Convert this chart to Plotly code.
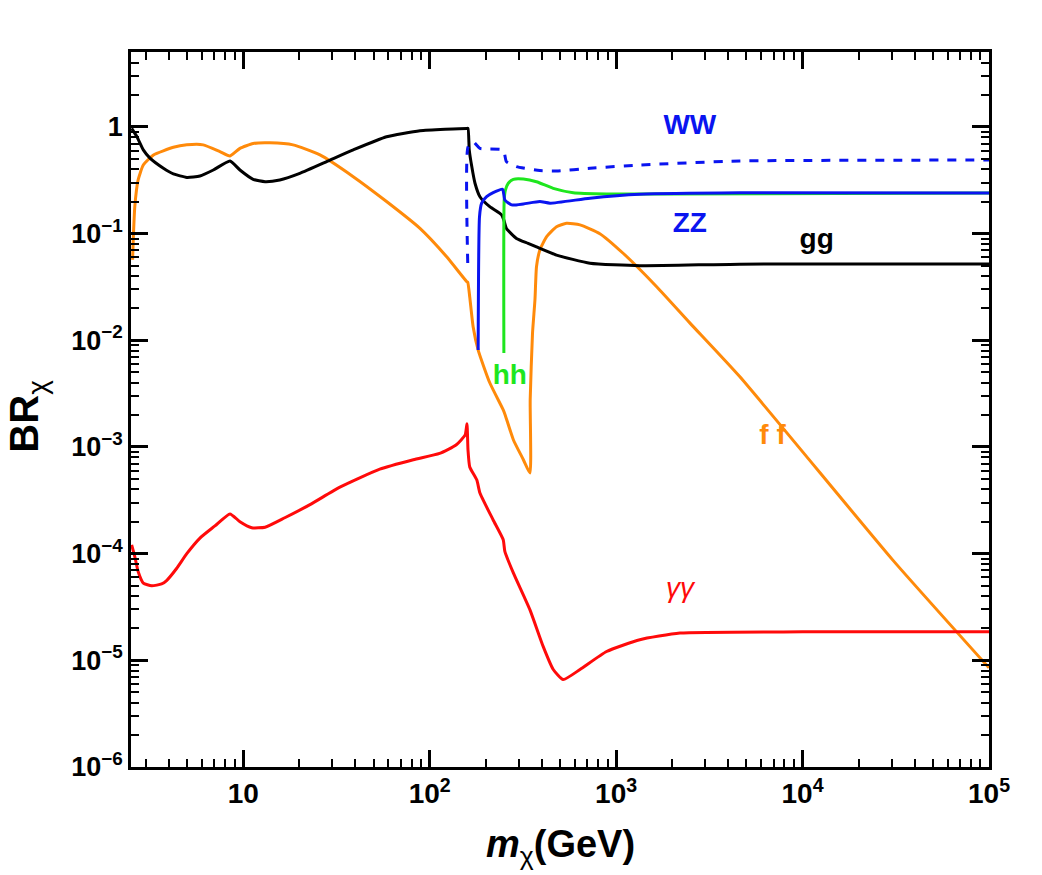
import numpy as np
import plotly.graph_objects as go

# ---------------- data ----------------
gg_x = [2.52, 2.69, 2.91, 3.16, 3.73, 4.22, 4.98, 5.86, 6.91, 8.49, 9.6, 11.3, 13.1, 15.7, 20.1,
        29.2, 38.9, 58.7, 88.7, 158, 160.5, 163, 168, 175, 186, 210, 243, 250, 258, 292, 337,
        374, 479, 724, 1340, 4600, 1e5]
gg_y = [0.97, 0.81, 0.61, 0.51, 0.41, 0.363, 0.337, 0.347, 0.395, 0.48, 0.395, 0.323, 0.307,
        0.319, 0.368, 0.49, 0.61, 0.81, 0.923, 0.97, 0.97, 0.61, 0.43, 0.297, 0.222, 0.179,
        0.15, 0.134, 0.112, 0.09, 0.081, 0.075, 0.063, 0.0528, 0.050, 0.0518, 0.052]

ff_x = [2.55, 2.57, 2.62, 2.73, 2.91, 3.3, 4.22, 4.98, 6.1, 7.5, 8.49, 9.6, 11.3, 13.9, 18.5,
        25.8, 38.9, 58.7, 88.7, 123, 158, 160, 164, 171, 182, 210, 248, 254, 281, 318, 345,
        346, 356, 367, 374, 390, 424, 479, 542, 640, 818, 1090, 1650, 2490, 4600, 30500, 1e5]
ff_y = [0.057, 0.087, 0.179, 0.319, 0.44, 0.547, 0.645, 0.68, 0.68, 0.587, 0.535, 0.63, 0.70,
        0.71, 0.68, 0.547, 0.342, 0.2, 0.112, 0.061, 0.0355, 0.035, 0.0255, 0.0134, 0.0081,
        0.004, 0.00223, 0.0020, 0.00117, 7.6e-4, 5.7e-4, 2.76e-3, 0.0116, 0.024, 0.049,
        0.0703, 0.0938, 0.116, 0.125, 0.121, 0.10, 0.0655, 0.0318, 0.0145, 0.00457, 8.7e-5,
        8.5e-6]

ww_x = [160, 160.5, 171, 186, 248, 258, 292, 390, 479, 724, 1340, 4600, 1e5]
ww_y = [0.053, 0.65, 0.73, 0.63, 0.61, 0.473, 0.425, 0.39, 0.387, 0.41, 0.44, 0.48, 0.49]

zz_x = [182, 185, 190, 202, 219, 246, 253, 275, 318, 390, 442, 724, 1340, 4600, 1e5]
zz_y = [0.0081, 0.144, 0.193, 0.222, 0.242, 0.261, 0.207, 0.186, 0.19, 0.2, 0.193, 0.215,
        0.234, 0.242, 0.24]

hh_x = [250, 251, 255, 264, 281, 318, 374, 460, 589, 889, 2020, 1e5]
hh_y = [0.0076, 0.207, 0.257, 0.297, 0.323, 0.325, 0.307, 0.266, 0.242, 0.236, 0.236, 0.24]

aa_x = [2.52, 2.62, 2.73, 2.91, 3.23, 3.65, 3.88, 4.4, 4.98, 5.86, 7.05, 8.49, 9.6, 11.1,
        13.1, 16.7, 22.8, 33, 54, 81.7, 113, 139, 155, 158.5, 160.5, 164, 179, 186, 219,
        248, 253, 281, 345, 406, 460, 520, 640, 889, 1340, 2200, 1e4, 1e5]
aa_y = [1.21e-4, 9.4e-5, 6.8e-5, 5.3e-5, 5.0e-5, 5.2e-5, 5.6e-5, 7.3e-5, 1.0e-4, 1.4e-4,
        1.82e-4, 2.36e-4, 1.99e-4, 1.75e-4, 1.77e-4, 2.17e-4, 2.88e-4, 4.2e-4, 6.2e-4, 7.6e-4,
        8.7e-4, 1.05e-3, 1.3e-3, 1.65e-3, 9.4e-4, 6.5e-4, 4.9e-4, 3.7e-4, 2.07e-4, 1.35e-4,
        1.05e-4, 6.6e-5, 2.97e-5, 1.35e-5, 8.2e-6, 6.6e-6, 8.2e-6, 1.21e-5, 1.56e-5, 1.8e-5,
        1.85e-5, 1.85e-5]

labels = ["WW", "ZZ", "gg", "hh", "f f"]
label_x = [2485, 2485, 11900, 269, 6900]
label_y = [1.0, 0.121, 0.0855, 0.0045, 0.00124]
aa_label = "γγ"
aa_label_x = [2200]
aa_label_y = [4.6e-5]

x_tickvals = [10, 100, 1e3, 1e4, 1e5]
x_ticktext = ["10", "10<sup>2</sup>", "10<sup>3</sup>", "10<sup>4</sup>", "10<sup>5</sup>"]
y_tickvals = [1, 1e-1, 1e-2, 1e-3, 1e-4, 1e-5, 1e-6]
y_ticktext = ["1", "10<sup>−1</sup>", "10<sup>−2</sup>", "10<sup>−3</sup>", "10<sup>−4</sup>",
              "10<sup>−5</sup>", "10<sup>−6</sup>"]

# ---------------- styles ----------------
BLUE = "#0a14f0"
GREEN = "#1ee61e"
ORANGE = "#ff8a0a"
RED = "#ff0a0a"
BLACK = "#000000"
label_colors = [BLUE, BLUE, BLACK, GREEN, ORANGE]
FONT = "Liberation Sans, Arial, sans-serif"
SMOOTH = 0.5

fig = go.Figure()
fig.add_trace(go.Scatter(x=ff_x, y=ff_y, mode="lines",
                         line=dict(color=ORANGE, width=3, shape="spline", smoothing=SMOOTH)))
fig.add_trace(go.Scatter(x=aa_x, y=aa_y, mode="lines",
                         line=dict(color=RED, width=3, shape="spline", smoothing=SMOOTH)))
fig.add_trace(go.Scatter(x=gg_x, y=gg_y, mode="lines",
                         line=dict(color=BLACK, width=3, shape="spline", smoothing=SMOOTH)))
fig.add_trace(go.Scatter(x=hh_x, y=hh_y, mode="lines",
                         line=dict(color=GREEN, width=3, shape="spline", smoothing=SMOOTH)))
fig.add_trace(go.Scatter(x=zz_x, y=zz_y, mode="lines",
                         line=dict(color=BLUE, width=3, shape="spline", smoothing=SMOOTH)))
fig.add_trace(go.Scatter(x=ww_x, y=ww_y, mode="lines",
                         line=dict(color=BLUE, width=3, dash="dash", shape="spline",
                                   smoothing=SMOOTH)))
fig.add_trace(go.Scatter(x=label_x, y=label_y, mode="text", text=labels,
                         textfont=dict(family=FONT, size=28, color=label_colors, weight="bold")))
fig.add_trace(go.Scatter(x=aa_label_x, y=aa_label_y, mode="text", text=[aa_label],
                         textfont=dict(family=FONT, size=28, color=RED, style="italic")))

x_minor = [m * 10 ** k for k in range(0, 5) for m in range(2, 10) if 2.5 < m * 10 ** k < 1e5]
y_minor = [m * 10.0 ** k for k in range(-6, 1) for m in range(2, 10) if m * 10.0 ** k < 5]

axis_common = dict(showline=True, linewidth=2.5, linecolor="black", mirror="allticks",
                   ticks="inside", tickwidth=2.5, tickcolor="black", ticklen=17,
                   showgrid=False, zeroline=False, tickmode="array")

fig.update_xaxes(type="log", range=[np.log10(2.5), 5], tickvals=x_tickvals, ticktext=x_ticktext,
                 tickfont=dict(family=FONT, size=28, color="black", weight="bold"),
                 minor=dict(tickvals=x_minor, ticks="inside", ticklen=8, tickwidth=2,
                            tickcolor="black", showgrid=False),
                 **axis_common)
fig.update_yaxes(type="log", range=[-6, 0.703], tickvals=y_tickvals, ticktext=y_ticktext,
                 tickfont=dict(family=FONT, size=27, color="black", weight="bold"),
                 minor=dict(tickvals=y_minor, ticks="inside", ticklen=8, tickwidth=2,
                            tickcolor="black", showgrid=False),
                 **axis_common)

fig.add_annotation(text="<b>BR</b><sub>χ</sub>", xref="paper", yref="paper",
                   x=(27 - 131) / 858, y=0.49, xanchor="center", yanchor="middle",
                   textangle=-90, showarrow=False,
                   font=dict(family=FONT, size=40, color="black"))
fig.add_annotation(text="<b><i>m</i></b><sub>χ</sub><b>(GeV)</b>", xref="paper", yref="paper",
                   x=0.5, y=-(847 - 767) / 715, xanchor="center", yanchor="middle",
                   showarrow=False,
                   font=dict(family=FONT, size=38, color="black"))

fig.update_layout(width=1042, height=875, margin=dict(l=131, r=53, t=52, b=108),
                  paper_bgcolor="white", plot_bgcolor="white", showlegend=False,
                  hovermode=False)

fig.write_html("out.html")
